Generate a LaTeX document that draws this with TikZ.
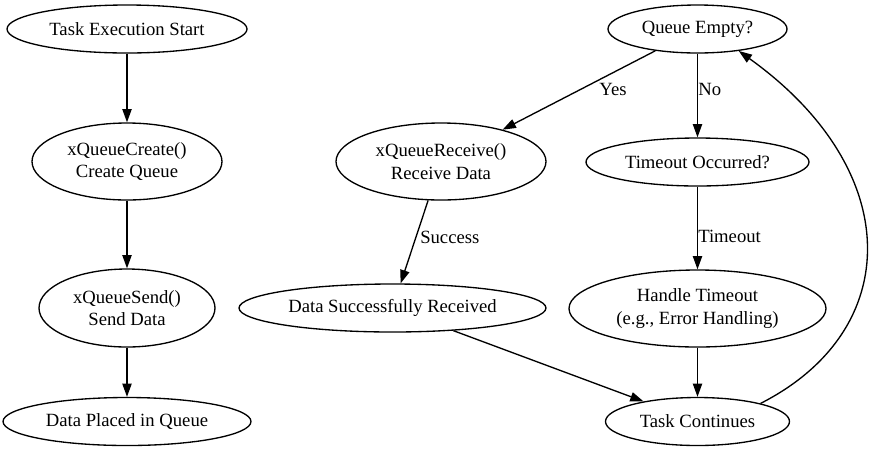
\documentclass[tikz,border=0pt]{standalone}
\usepackage{fontspec}
\setmainfont{Liberation Serif}
\usetikzlibrary{arrows.meta,shapes.geometric}
\tikzset{
  nd/.style={draw, ellipse, line width=1pt, inner sep=0pt, align=center,
    font=\rmfamily\fontsize{14}{16.8}\selectfont},
  arr/.style={draw, line width=1pt, -{Triangle[length=10pt,width=7pt]}},
  lbl/.style={inner sep=0pt, font=\rmfamily\fontsize{14}{16.8}\selectfont}
}
\begin{document}
\begin{tikzpicture}[x=0.75pt,y=-0.75pt]
\useasboundingbox (0,0) rectangle (874,451);
% left column
\node[nd, minimum width=180pt, minimum height=36pt] (start) at (127,29) {Task Execution Start};
\node[nd, minimum width=142.5pt, minimum height=57.75pt] (create) at (127,161.5) {xQueueCreate()\\Create Queue};
\node[nd, minimum width=132pt, minimum height=58.5pt] (send) at (127,308) {xQueueSend()\\Send Data};
\node[nd, minimum width=186pt, minimum height=36pt] (placed) at (127,421.5) {Data Placed in Queue};
% right part
\node[nd, minimum width=134.25pt, minimum height=36pt] (qe) at (697.5,29) {Queue Empty?};
\node[nd, minimum width=157.5pt, minimum height=57.75pt] (recv) at (441,161.5) {xQueueReceive()\\Receive Data};
\node[nd, minimum width=167.25pt, minimum height=36pt] (toc) at (697.5,162) {Timeout Occurred?};
\node[nd, minimum width=230.25pt, minimum height=36pt] (dsr) at (392.5,308) {Data Successfully Received};
\node[nd, minimum width=192.75pt, minimum height=57.75pt] (handle) at (697.5,308.5) {Handle Timeout\\(e.g., Error Handling)};
\node[nd, minimum width=138pt, minimum height=36pt] (tc) at (697.5,421.5) {Task Continues};
% edges
\draw[arr] (start) -- (create);
\draw[arr] (create) -- (send);
\draw[arr] (send) -- (placed);
\draw[arr] (qe) -- (recv);
\draw[arr] (qe.south) -- (toc.north);
\draw[arr] (recv) -- (dsr);
\draw[arr] (toc.south) -- (handle.north);
\draw[arr] (dsr) -- (tc);
\draw[arr] (handle.south) -- (tc.north);
\draw[arr] (tc.16) .. controls (905,330) and (905,170) .. (qe.-28);
% labels
\node[lbl] (lyes) at (613,89) {Yes};
\node[lbl, anchor=west] (lno) at (698,89) {No};
\node[lbl, anchor=west] (lsucc) at (420,237) {Success};
\node[lbl, anchor=west] (ltime) at (698,236) {Timeout};
\end{tikzpicture}
\end{document}
